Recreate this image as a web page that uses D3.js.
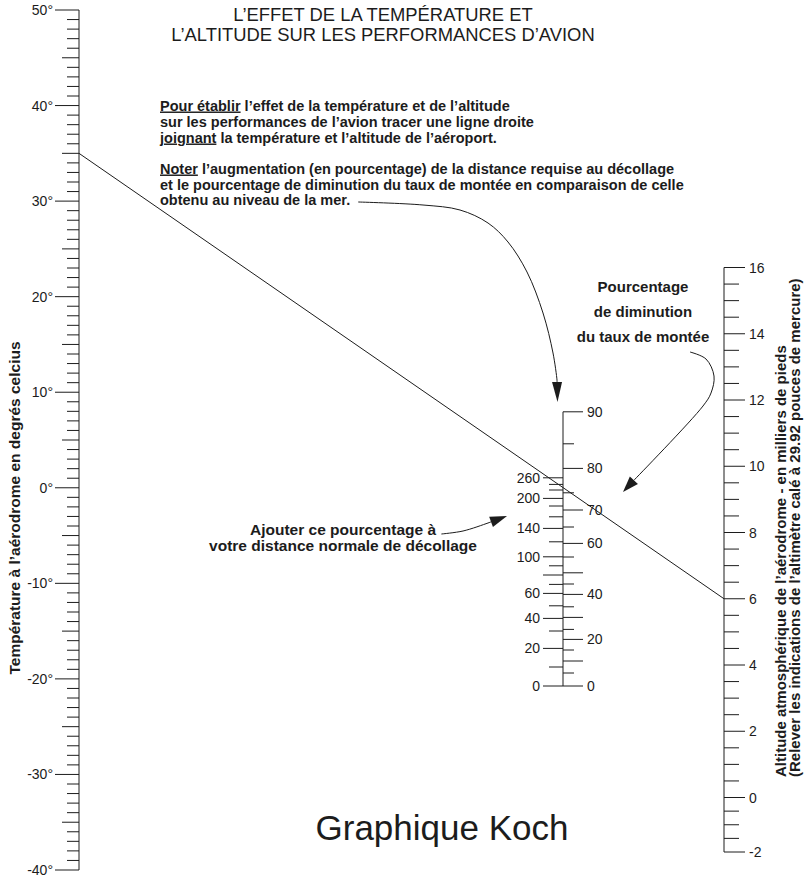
<!DOCTYPE html>
<html>
<head>
<meta charset="utf-8">
<script src="https://cdn.jsdelivr.net/npm/d3@7"></script>
<style>
  html, body { margin: 0; padding: 0; background: #fff; }
  svg { display: block; }
</style>
</head>
<body>
<svg id="chart" width="805" height="879"></svg>
<script>
// ---- Scale data -------------------------------------------------------
// Aerodrome temperature (°C), graduated every degree
const tempTicks = d3.range(-40, 51, 1);
const tempLabels = [50, 40, 30, 20, 10, 0, -10, -20, -30, -40];

// Pressure altitude (thousands of feet), graduated every 500 ft
const altTicks = d3.range(-2, 16.01, 0.5);
const altLabels = [16, 14, 12, 10, 8, 6, 4, 2, 0, -2];

// Centre scale, left side: % increase of take-off distance,
// with the density altitude (thousands of feet) each graduation stands for
const takeoffValues = [0, 10, 20, 30, 40, 50, 60, 70, 80, 90, 100, 120, 140, 160, 180, 200, 220, 240, 260];
const takeoffDensityAlt = [0, 0.95, 1.88, 2.75, 3.38, 4.01, 4.63, 5.08, 5.55, 6.01, 6.46, 7.21, 7.88, 8.46, 9.0, 9.38, 9.8, 10.08, 10.41];
const takeoffLabels = [260, 200, 140, 100, 60, 40, 20, 0];
const takeoffLong = [260, 200, 140, 100, 80, 60, 40, 20, 0];

// Centre scale, right side: % decrease of rate of climb
const climbValues = [0, 5, 10, 15, 20, 25, 30, 35, 40, 45, 50, 55, 60, 65, 70, 75, 80, 85, 90];
const climbDensityAlt = [0, 0.65, 1.25, 1.8, 2.33, 2.83, 3.43, 3.96, 4.58, 5.1, 5.66, 6.45, 7.13, 7.95, 8.8, 9.66, 10.88, 12.11, 13.71];
const climbLabels = [90, 80, 70, 60, 40, 20, 0];

// Worked example: 35 °C at a 6000 ft aerodrome
const exampleTemp = 35;
const exampleAlt = 6;

// ---- Texts -------------------------------------------------------------
const titleLines = ["L\u2019EFFET DE LA TEMP\u00C9RATURE ET", "L\u2019ALTITUDE SUR LES PERFORMANCES D\u2019AVION"];
const instructions = [
  [["Pour \u00E9tablir", true], [" l\u2019effet de la temp\u00E9rature et de l\u2019altitude", false]],
  [["sur les performances de l\u2019avion tracer une ligne droite", false]],
  [["joignant", true], [" la temp\u00E9rature et l\u2019altitude de l\u2019a\u00E9roport.", false]],
  null,
  [["Noter", true], [" l\u2019augmentation (en pourcentage) de la distance requise au d\u00E9collage", false]],
  [["et le pourcentage de diminution du taux de mont\u00E9e en comparaison de celle", false]],
  [["obtenu au niveau de la mer.", false]]
];
const climbNote = ["Pourcentage", "de diminution", "du taux de mont\u00E9e"];
const takeoffNote = ["Ajouter ce pourcentage \u00E0", "votre distance normale de d\u00E9collage"];
const tempTitle = "Temp\u00E9rature \u00E0 l\u2019a\u00E9rodrome en degr\u00E9s celcius";
const altTitle = ["Altitude atmosph\u00E9rique de l\u2019a\u00E9rodrome - en milliers de pieds",
                  "(Relever les indications de l\u2019altim\u00E8tre cal\u00E9 \u00E0 29.92 pouces de mercure)"];
const chartName = "Graphique Koch";

// ---- Layout -------------------------------------------------------------
const svg = d3.select("#chart");
const font = "'Liberation Sans', Arial, Helvetica, sans-serif";
const ink = "#1c1c1c";

const xTemp = 79, xMid = 563, xAlt = 724;
const yTemp = d3.scaleLinear().domain([-40, 50]).range([870, 10]);
const yAlt = d3.scaleLinear().domain([-2, 0, 16]).range([852, 797.5, 267.5]);
const yMid = d3.scaleLinear().domain([0, 14]).range([686, 406]);

const g = svg.append("g").attr("fill", "none").attr("stroke", ink).attr("stroke-width", 1);

// ---- Temperature scale -------------------------------------------------
g.append("line").attr("x1", xTemp).attr("x2", xTemp)
  .attr("y1", yTemp(50)).attr("y2", yTemp(-40));
g.selectAll(".ttick").data(tempTicks).join("line")
  .attr("x1", d => xTemp - (d % 10 === 0 ? 24 : d % 5 === 0 ? 17 : 12))
  .attr("x2", xTemp)
  .attr("y1", d => yTemp(d)).attr("y2", d => yTemp(d));
svg.selectAll(".tlabel").data(tempLabels).join("text")
  .attr("x", 53).attr("y", d => yTemp(d)).attr("dy", "0.36em")
  .attr("text-anchor", "end").attr("font-family", font).attr("font-size", 14).attr("fill", ink)
  .text(d => d + "\u00B0");

// ---- Altitude scale ----------------------------------------------------
g.append("line").attr("x1", xAlt).attr("x2", xAlt)
  .attr("y1", yAlt(16)).attr("y2", yAlt(-2));
g.selectAll(".atick").data(altTicks).join("line")
  .attr("x1", xAlt)
  .attr("x2", d => xAlt + (altLabels.includes(d) ? 21 : 15))
  .attr("y1", d => yAlt(d)).attr("y2", d => yAlt(d));
svg.selectAll(".alabel").data(altLabels).join("text")
  .attr("x", xAlt + 25).attr("y", d => yAlt(d)).attr("dy", "0.36em")
  .attr("font-family", font).attr("font-size", 14).attr("fill", ink)
  .text(d => d);

// ---- Centre scale ------------------------------------------------------
const takeoff = takeoffValues.map((v, i) => ({ v, da: takeoffDensityAlt[i] }));
const climb = climbValues.map((v, i) => ({ v, da: climbDensityAlt[i] }));

g.append("line").attr("x1", xMid).attr("x2", xMid)
  .attr("y1", yMid(d3.max(climbDensityAlt))).attr("y2", yMid(0));
g.selectAll(".ctick").data(climb).join("line")
  .attr("x1", xMid).attr("x2", d => xMid + (d.v % 10 === 0 ? 20 : 11))
  .attr("y1", d => yMid(d.da)).attr("y2", d => yMid(d.da));
g.selectAll(".dtick").data(takeoff).join("line")
  .attr("x1", d => xMid - (takeoffLong.includes(d.v) ? 20 : 14)).attr("x2", xMid)
  .attr("y1", d => yMid(d.da)).attr("y2", d => yMid(d.da));
svg.selectAll(".clabel").data(climb.filter(d => climbLabels.includes(d.v))).join("text")
  .attr("x", xMid + 24).attr("y", d => yMid(d.da)).attr("dy", "0.36em")
  .attr("font-family", font).attr("font-size", 14).attr("fill", ink)
  .text(d => d.v);
svg.selectAll(".dlabel").data(takeoff.filter(d => takeoffLabels.includes(d.v))).join("text")
  .attr("x", xMid - 23).attr("y", d => yMid(d.da)).attr("dy", "0.36em")
  .attr("text-anchor", "end").attr("font-family", font).attr("font-size", 14).attr("fill", ink)
  .text(d => d.v);

// ---- Example index line ------------------------------------------------
g.append("line")
  .attr("x1", xTemp).attr("y1", yTemp(exampleTemp))
  .attr("x2", xAlt).attr("y2", yAlt(exampleAlt));

// ---- Titles and notes --------------------------------------------------
svg.append("g").selectAll("text").data(titleLines).join("text")
  .attr("x", 383).attr("y", (d, i) => 21 + i * 19.5)
  .attr("text-anchor", "middle").attr("font-family", font).attr("font-size", 18.4).attr("fill", ink)
  .text(d => d);

const instr = svg.append("g").attr("font-family", font).attr("font-size", 14.5)
  .attr("font-weight", "bold").attr("fill", ink);
const instrY = [110.5, 126.5, 142.5, null, 173.5, 189.5, 205];
let lastLine = null;
instructions.forEach((parts, i) => {
  if (!parts) return;
  const t = instr.append("text").attr("x", 160).attr("y", instrY[i]);
  parts.forEach(([s, u]) => {
    t.append("tspan").text(s).style("text-decoration", u ? "underline" : "none");
  });
  lastLine = t;
});

svg.append("g").selectAll("text").data(climbNote).join("text")
  .attr("x", 643).attr("y", (d, i) => 291.5 + i * 25)
  .attr("text-anchor", "middle").attr("font-family", font).attr("font-size", 15)
  .attr("font-weight", "bold").attr("fill", ink).text(d => d);

const takeoffText = svg.append("g").selectAll("text").data(takeoffNote).join("text")
  .attr("x", 343).attr("y", (d, i) => 534.5 + i * 16)
  .attr("text-anchor", "middle").attr("font-family", font).attr("font-size", 15.5)
  .attr("font-weight", "bold").attr("fill", ink).text(d => d);

svg.append("text")
  .attr("transform", "translate(20,508) rotate(-90)")
  .attr("text-anchor", "middle").attr("font-family", font).attr("font-size", 15.5)
  .attr("font-weight", "bold").attr("fill", ink).text(tempTitle);

svg.append("g").selectAll("text").data(altTitle).join("text")
  .attr("transform", (d, i) => `translate(${786 + i * 14},777) rotate(-90)`)
  .attr("text-anchor", "start").attr("font-family", font).attr("font-size", 15)
  .attr("font-weight", "bold").attr("fill", ink).text(d => d);

svg.append("text")
  .attr("x", 442).attr("y", 840)
  .attr("text-anchor", "middle").attr("font-family", font).attr("font-size", 35)
  .attr("fill", ink).text(chartName);

// ---- Pointer arrows ----------------------------------------------------
const curve = d3.line().curve(d3.curveCatmullRom.alpha(0.5));
function arrow(points, headLen, headHalf) {
  const n = points.length;
  const tip = points[n - 1], prev = points[n - 2];
  const ang = Math.atan2(tip[1] - prev[1], tip[0] - prev[0]);
  const bx = tip[0] - headLen * Math.cos(ang), by = tip[1] - headLen * Math.sin(ang);
  const shaft = points.slice(0, n - 1).concat([[bx, by]]);
  g.append("path").attr("d", curve(shaft));
  const px = -Math.sin(ang) * headHalf, py = Math.cos(ang) * headHalf;
  svg.append("path")
    .attr("d", `M${tip[0]},${tip[1]}L${bx + px},${by + py}L${bx - px},${by - py}Z`)
    .attr("fill", ink);
}

// Arrow from the end of the last instruction line down to the centre scale
const lastBox = lastLine.node().getBBox();
const a1x = lastBox.x + lastBox.width + 8;
arrow([[a1x, 202], [423, 205], [460, 210], [488, 223], [508, 242], [527, 272], [543, 313], [553, 353], [557, 380], [557.5, 402]], 20, 5);
arrow([[690, 352], [706, 359], [714, 376], [711, 393], [703, 406], [623, 492]], 16, 5.5);
const noteBox = takeoffText.nodes()[0].getBBox();
const a3x = noteBox.x + noteBox.width + 5;
arrow([[a3x, 534], [463, 531], [488, 523], [507, 516]], 17, 5.5);
</script>
</body>
</html>
